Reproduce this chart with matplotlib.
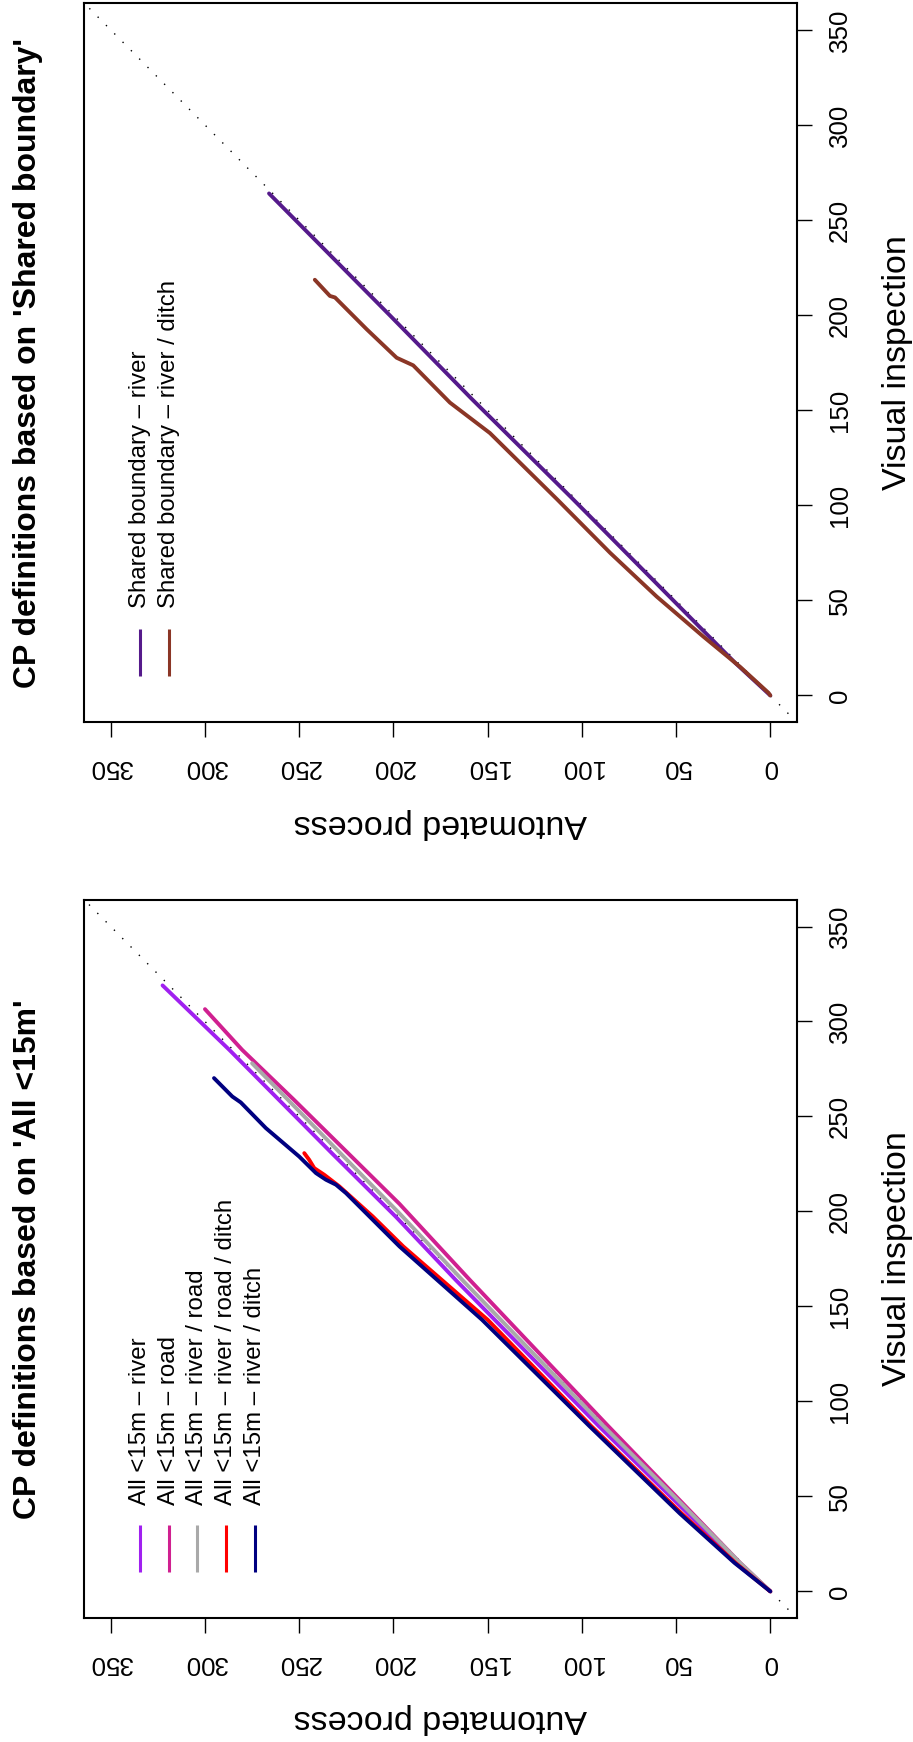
import matplotlib
matplotlib.use("Agg")
import matplotlib.pyplot as plt

plt.rcParams["font.family"] = ["Liberation Sans", "DejaVu Sans"]

# shared axis ticks
ticks = [0, 50, 100, 150, 200, 250, 300, 350]

# upper panel: 'Shared boundary'
sb_title = "CP definitions based on 'Shared boundary'"
sb_labels = ["Shared boundary \u2013 river", "Shared boundary \u2013 river / ditch"]
sb_colors = ["#551A8B", "#8B3626"]
sb_river_vis = [0, 17, 52, 68, 104, 156, 200, 264]
sb_river_auto = [0, 18.5, 53.5, 69.5, 105.5, 158.5, 202, 266]
sb_ditch_vis = [0, 1.4, 15, 31, 52, 75, 103, 138, 154, 173.6, 177.6, 192.6, 209.3, 210.1, 218.6]
sb_ditch_auto = [0, 1, 16, 35.6, 60.3, 85, 113, 148.8, 170, 189.5, 198.3, 214.2, 231, 233.7, 241.7]

# lower panel: 'All <15m'
al_title = "CP definitions based on 'All <15m'"
al_labels = ["All <15m \u2013 river", "All <15m \u2013 road", "All <15m \u2013 river / road",
             "All <15m \u2013 river / road / ditch", "All <15m \u2013 river / ditch"]
al_colors = ["#A020F0", "#D02090", "#A9A9A9", "#FF0000", "#000080"]
al_river_vis = [0, 15, 50, 87, 164, 197, 230, 285, 319]
al_river_auto = [0, 17, 53, 91, 167, 198.5, 232, 287, 322.5]
al_road_vis = [0, 15, 50, 87, 164, 204, 259, 285, 306.5]
al_road_auto = [0, 16, 50, 86, 159.5, 196.8, 253, 280.2, 300]
al_rr_vis = [0, 15, 50, 87, 164, 199, 278]
al_rr_auto = [0, 16, 51, 88.5, 163.5, 196.8, 275]
al_rrd_vis = [0, 15, 41, 87, 143, 181.6, 197.4, 213.2, 219.3, 222.8, 227.2, 230.7]
al_rrd_auto = [0, 18.5, 47, 95, 150, 194.8, 211, 228.7, 236.7, 242, 244.7, 247.3]
al_rd_vis = [0, 15, 41, 87, 143, 181.6, 209.7, 214.1, 216.7, 220.2, 228.9, 243.9, 257.4, 260.5, 270.2]
al_rd_auto = [0, 19, 48, 96, 153, 196.8, 225.2, 230.5, 235.8, 241.1, 250, 267.7, 281, 285.5, 295.2]


def draw_panel(ax, title, labels, colors, series):
    # reference line y = x
    ax.axline((0, 0), slope=1, color="black", lw=1.0, linestyle=(0, (1, 7.5)), zorder=1)
    for (vis, auto), c in zip(series, colors):
        ax.plot(auto, vis, color=c, lw=2.8, solid_capstyle="round",
                solid_joinstyle="round", zorder=2)

    # plot is drawn turned on its side: automated runs right-to-left, visual bottom-to-top
    ax.set_xlim(364, -14)
    ax.set_ylim(-14, 364)
    ax.set_xticks(ticks)
    ax.set_yticks(ticks)
    ax.yaxis.tick_right()
    ax.tick_params(axis="both", direction="out", length=10.8, width=1.0,
                   labelsize=18.6, colors="black")
    ax.tick_params(axis="x", pad=21.6, labelrotation=180)
    ax.tick_params(axis="y", pad=20.2, labelrotation=90)
    plt.setp(ax.get_yticklabels(), ha="center", va="center")
    plt.setp(ax.get_xticklabels(), ha="center", va="center")
    for sp in ax.spines.values():
        sp.set_linewidth(1.5)

    ax.text(-0.079, 0.5, title, transform=ax.transAxes, rotation=90,
            ha="center", va="center", fontsize=23, fontweight="bold")
    ax.text(1.142, 0.5, "Visual inspection", transform=ax.transAxes, rotation=90,
            ha="center", va="center", fontsize=24.5)
    ax.text(0.5, -0.1405, "Automated process", transform=ax.transAxes, rotation=180,
            ha="center", va="center", fontsize=24.5)

    # legend with vertical keys
    for i, (lab, c) in enumerate(zip(labels, colors)):
        x = 0.078 + i * 0.0404
        ax.plot([x, x], [0.064, 0.130], transform=ax.transAxes, color=c, lw=2.2,
                solid_capstyle="butt", clip_on=False)
        ax.text(x, 0.158, lab, transform=ax.transAxes, rotation=90,
                ha="center", va="bottom", fontsize=17.3)


fig = plt.figure(figsize=(9.13, 17.42), dpi=100)
ax_top = fig.add_axes([0.0924, 0.5855, 0.7802, 0.4126])
ax_bot = fig.add_axes([0.0924, 0.0712, 0.7802, 0.4122])

draw_panel(ax_top, sb_title, sb_labels, sb_colors,
           [(sb_river_vis, sb_river_auto), (sb_ditch_vis, sb_ditch_auto)])
draw_panel(ax_bot, al_title, al_labels, al_colors,
           [(al_river_vis, al_river_auto), (al_road_vis, al_road_auto),
            (al_rr_vis, al_rr_auto), (al_rrd_vis, al_rrd_auto),
            (al_rd_vis, al_rd_auto)])

fig.savefig("out.png", dpi=100)
